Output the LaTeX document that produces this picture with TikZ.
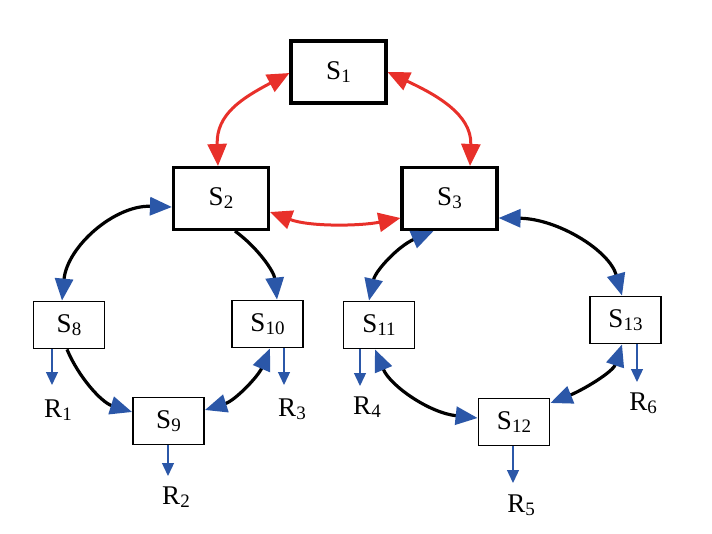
\documentclass[tikz,border=0pt]{standalone}
\usepackage{fontspec}
\setmainfont{Liberation Serif}
\usetikzlibrary{arrows.meta,calc}
\definecolor{myred}{HTML}{E8302A}
\definecolor{myblue}{HTML}{2B57A8}
\newcommand\subn[1]{\raisebox{-3pt}{\fontsize{19}{20}\selectfont #1}}
\tikzset{
  bt/.tip={Triangle[length=22pt,width=18pt,color=myblue]},
  rt/.tip={Triangle[length=22pt,width=19pt]},
  st/.tip={Triangle[length=13pt,width=12pt]}
}
\begin{document}
\begin{tikzpicture}[x=1pt,y=-1pt,
  bigbox/.style={draw,line width=3.1pt,minimum width=95pt,minimum height=62pt,inner sep=0pt,font=\fontsize{27}{30}\selectfont},
  smallbox/.style={draw,line width=1.8pt,minimum width=71pt,minimum height=47pt,inner sep=0pt,font=\fontsize{27}{30}\selectfont},
  lab/.style={inner sep=0pt,font=\fontsize{27}{30}\selectfont},
  redarr/.style={myred,line width=3pt,rt-rt},
  ring/.style={black,line width=3.2pt},
  rout/.style={myblue,line width=1.3pt,-st}
]
\useasboundingbox (0,0) rectangle (712,533);

\node[bigbox] (S1) at (338.5,72) {S\subn{1}};
\node[bigbox] (S2) at (221,198.5) {S\subn{2}};
\node[bigbox] (S3) at (449.5,198.5) {S\subn{3}};
\node[smallbox] (S8) at (69,325) {S\subn{8}};
\node[smallbox] (S10) at (267.5,324) {S\subn{10}};
\node[smallbox] (S9) at (168.5,421) {S\subn{9}};
\node[smallbox] (S11) at (379,325) {S\subn{11}};
\node[smallbox] (S13) at (625.5,320) {S\subn{13}};
\node[smallbox] (S12) at (514,422) {S\subn{12}};

% red connectors
\draw[redarr] ([xshift=-3pt]S2.north) .. controls +(-2,-52) and +(-47,25) .. ([yshift=-1pt]S1.west);
\draw[redarr] (S1.east) .. controls +(47,22) and +(2,-52) .. ([xshift=20.5pt]S3.north);
\draw[redarr] ([yshift=-13.5pt]S2.east) .. controls +(40,15) and +(-40,8) .. ([yshift=-19.5pt]S3.west);

% left ring
\draw[ring,bt-bt] ([yshift=-8.5pt]S2.west) .. controls +(-57.4,-2) and +(5.1,-54.1) .. ([xshift=-7pt]S8.north);
\draw[ring,-bt] ([xshift=14pt]S2.south) .. controls +(23.3,17.1) and +(-2.9,-27.8) .. ([xshift=9.5pt]S10.north);
\draw[ring,-bt] ([xshift=-2pt]S8.south) .. controls +(11.7,28.1) and +(-30.3,-9.5) .. ([yshift=9pt]S9.west);
\draw[ring,bt-bt] ([yshift=11pt]S9.east) .. controls +(30.3,-9.5) and +(-11.8,28) .. ([xshift=2.5pt]S10.south);

% right ring
\draw[ring,bt-bt] ([xshift=-16pt]S3.south) .. controls +(-34.5,14.6) and +(6.6,-30.4) .. ([xshift=-10pt]S11.north);
\draw[ring,bt-bt] ([yshift=-19.5pt]S3.east) .. controls +(58.9,0.7) and +(-12.7,-45.3) .. ([xshift=-3.5pt]S13.north);
\draw[ring,bt-bt] ([xshift=-4pt]S11.south) .. controls +(15.2,36.4) and +(-48.3,-5.1) .. ([yshift=4pt]S12.west);
\draw[ring,bt-bt] ([yshift=19pt]S12.east) .. controls +(32.4,-13) and +(-9.2,27.7) .. ([xshift=-3.5pt]S13.south);

% outputs
\coordinate (e1) at (52,385);
\coordinate (e2) at (168,476);
\coordinate (e3) at (284,385);
\coordinate (e4) at (360,386);
\coordinate (e5) at (513,483);
\coordinate (e6) at (637,382);
\draw[rout] (S8.south -| e1) -- (e1);
\draw[rout] (S9.south -| e2) -- (e2);
\draw[rout] (S10.south -| e3) -- (e3);
\draw[rout] (S11.south -| e4) -- (e4);
\draw[rout] (S12.south -| e5) -- (e5);
\draw[rout] (S13.south -| e6) -- (e6);

\node[lab] (R1) at (58,410) {R\subn{1}};
\node[lab] (R2) at (176,497) {R\subn{2}};
\node[lab] (R3) at (292,409) {R\subn{3}};
\node[lab] (R4) at (367,407) {R\subn{4}};
\node[lab] (R5) at (521,505) {R\subn{5}};
\node[lab] (R6) at (643,403) {R\subn{6}};
\end{tikzpicture}
\end{document}
